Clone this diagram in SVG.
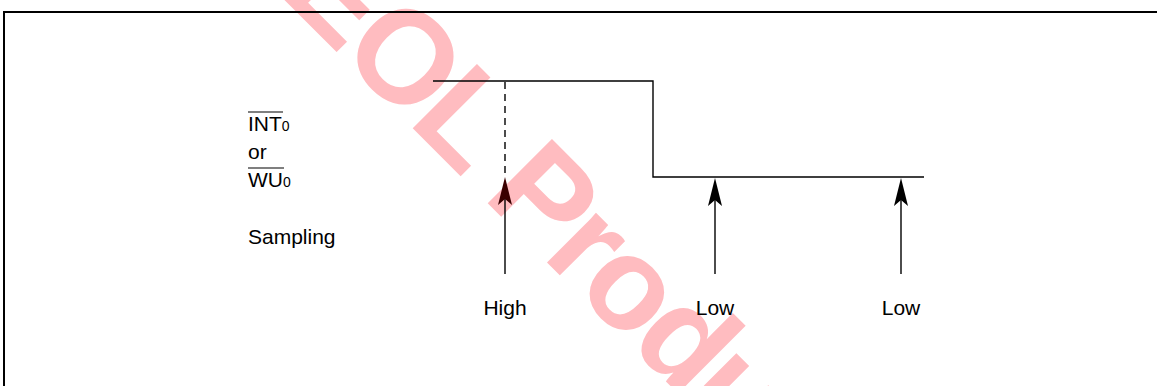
<svg xmlns="http://www.w3.org/2000/svg" width="1157" height="386" viewBox="0 0 1157 386">
<style>
.wm{font-family:"Liberation Sans",Arial,sans-serif;font-weight:bold;font-size:132px;letter-spacing:-4.5px;fill:#ffbcc0}
.frame{fill:none;stroke:#000;stroke-width:2}
.sig{fill:none;stroke:#000;stroke-width:1.4}
.dash{fill:none;stroke:#000;stroke-width:1.4;stroke-dasharray:7,5}
.ln{fill:none;stroke:#000;stroke-width:1.4}
.ah{fill:#000;stroke:none}
.lbl{font-family:"Liberation Sans",Arial,sans-serif;font-size:21px;fill:#000}
.sub{font-size:14px}
.ov{stroke:#000;stroke-width:1.2}
</style>
<rect width="1157" height="386" fill="#fff"/>
<text class="wm" transform="translate(278,-6.4) rotate(45)" x="0" y="0">EOL Product</text>
<path class="frame" d="M4,386 V12 H1157"/>
<g id="signal">
<path class="sig" d="M433,81 H653 V177 H924"/>
</g>
<g id="labels">
<text class="lbl" x="248" y="131">INT<tspan class="sub">0</tspan></text>
<line class="ov" x1="248" y1="112" x2="283" y2="112"/>
<text class="lbl" x="248" y="159">or</text>
<text class="lbl" x="248" y="187">WU<tspan class="sub">0</tspan></text>
<line class="ov" x1="248" y1="168" x2="284" y2="168"/>
<text class="lbl" x="248" y="244">Sampling</text>
</g>
<g id="connectors">
<path class="dash" d="M505,82 V178"/>
<g id="arrow-high">
<path class="ln" d="M505,274 V190"/>
<path class="ah" d="M505,177 L512,205 L505,199 L498,205 Z" style="fill:#3a0000"/>
</g>
<g id="arrow-low1">
<path class="ln" d="M715,274 V190"/>
<path class="ah" d="M715,178 L722,206 L715,200 L708,206 Z"/>
</g>
<g id="arrow-low2">
<path class="ln" d="M901,274 V190"/>
<path class="ah" d="M901,178 L908,206 L901,200 L894,206 Z"/>
</g>
</g>
<g id="sample-labels">
<text class="lbl" x="505" y="315" text-anchor="middle">High</text>
<text class="lbl" x="715" y="315" text-anchor="middle">Low</text>
<text class="lbl" x="901" y="315" text-anchor="middle">Low</text>
</g>
</svg>
